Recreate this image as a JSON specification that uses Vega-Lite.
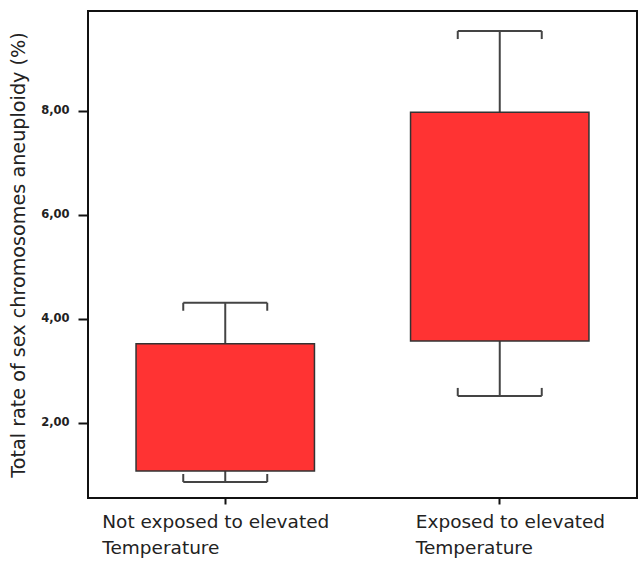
{
  "$schema": "https://vega.github.io/schema/vega-lite/v6.json",
  "autosize": "none",
  "padding": {"left": 88, "top": 11, "right": 1, "bottom": 67},
  "width": 549,
  "height": 487,
  "background": "white",
  "config": {
    "view": {"stroke": "#111", "strokeWidth": 2},
    "font": "DejaVu Sans"
  },
  "data": {
    "values": [
      {"group": "Not exposed to elevated Temperature", "min": 0.866, "q1": 1.078, "q3": 3.52, "max": 4.31},
      {"group": "Exposed to elevated Temperature", "min": 2.52, "q1": 3.575, "q3": 7.97, "max": 9.53}
    ]
  },
  "encoding": {
    "x": {
      "field": "group",
      "type": "nominal",
      "sort": null,
      "scale": {"paddingInner": 0, "paddingOuter": 0},
      "axis": {
        "title": null,
        "domain": false,
        "labelAngle": 0,
        "labelAlign": "left",
        "labelBaseline": "top",
        "labelFont": "DejaVu Sans",
        "labelFontSize": 18.5,
        "labelColor": "#222",
        "labelLineHeight": 26,
        "labelPadding": 8,
        "labelLimit": 400,
        "labelOffset": {"condition": {"test": "datum.value == 'Not exposed to elevated Temperature'", "value": -123}, "value": -84},
        "labelExpr": "datum.value == 'Not exposed to elevated Temperature' ? ['Not exposed to elevated', 'Temperature'] : ['Exposed to elevated', 'Temperature']",
        "ticks": true,
        "tickSize": 6,
        "tickWidth": 2,
        "tickColor": "#111"
      }
    }
  },
  "layer": [
    {
      "mark": {"type": "rule", "color": "#444", "strokeWidth": 2},
      "encoding": {
        "y": {
          "field": "max",
          "type": "quantitative",
          "scale": {"domain": [0.559, 9.915], "nice": false, "zero": false},
          "axis": {
            "title": "Total rate of sex chromosomes aneuploidy (%)",
            "titleFont": "DejaVu Sans",
            "titleFontSize": 19.2,
            "titleFontWeight": "normal",
            "titleColor": "#222",
            "titlePadding": 12,
            "domain": false,
            "grid": false,
            "values": [2, 4, 6, 8],
            "labelExpr": "replace(format(datum.value, '.2f'), '.', ',')",
            "labelFont": "DejaVu Sans",
            "labelFontSize": 11.5,
            "labelFontWeight": "bold",
            "labelColor": "#222",
            "labelPadding": 9,
            "tickSize": 10,
            "tickWidth": 2,
            "tickColor": "#111"
          }
        },
        "y2": {"field": "q3"}
      }
    },
    {
      "mark": {"type": "rule", "color": "#444", "strokeWidth": 2},
      "encoding": {
        "y": {"field": "min", "type": "quantitative"},
        "y2": {"field": "q1"}
      }
    },
    {
      "mark": {"type": "tick", "orient": "horizontal", "color": "#444", "thickness": 2, "size": 84, "opacity": 1},
      "encoding": {"y": {"field": "max", "type": "quantitative"}}
    },
    {
      "mark": {"type": "tick", "orient": "horizontal", "color": "#444", "thickness": 2, "size": 84, "opacity": 1},
      "encoding": {"y": {"field": "min", "type": "quantitative"}}
    },
    {
      "mark": {"type": "tick", "orient": "vertical", "color": "#444", "thickness": 2, "size": 8, "xOffset": -42, "yOffset": 4, "opacity": 1},
      "encoding": {"y": {"field": "max", "type": "quantitative"}}
    },
    {
      "mark": {"type": "tick", "orient": "vertical", "color": "#444", "thickness": 2, "size": 8, "xOffset": 42, "yOffset": 4, "opacity": 1},
      "encoding": {"y": {"field": "max", "type": "quantitative"}}
    },
    {
      "mark": {"type": "tick", "orient": "vertical", "color": "#444", "thickness": 2, "size": 8, "xOffset": -42, "yOffset": -4, "opacity": 1},
      "encoding": {"y": {"field": "min", "type": "quantitative"}}
    },
    {
      "mark": {"type": "tick", "orient": "vertical", "color": "#444", "thickness": 2, "size": 8, "xOffset": 42, "yOffset": -4, "opacity": 1},
      "encoding": {"y": {"field": "min", "type": "quantitative"}}
    },
    {
      "mark": {"type": "bar", "color": "#FF3333", "stroke": "#333", "strokeWidth": 1.5, "width": {"band": 0.65}},
      "encoding": {
        "y": {"field": "q1", "type": "quantitative"},
        "y2": {"field": "q3"}
      }
    }
  ]
}
